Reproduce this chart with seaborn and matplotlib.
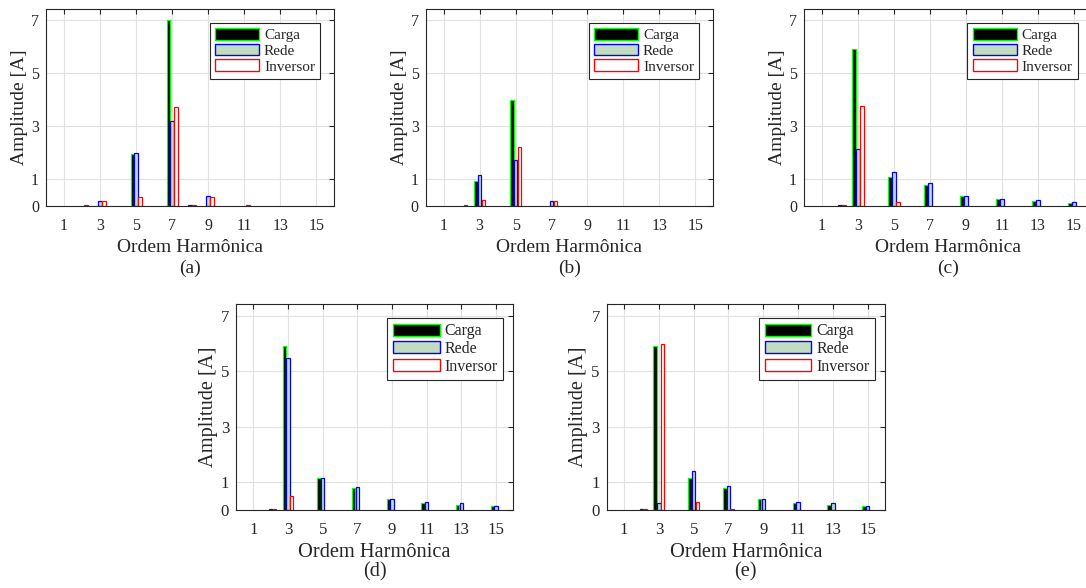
# Harmonic spectra of load, grid and inverter currents - five panels

import pandas as pd
import seaborn as sns
import matplotlib.pyplot as plt
from matplotlib.patches import Patch

# Data
harmonics = list(range(1, 16))
series = ['Carga', 'Rede', 'Inversor']
face_colors = ['#000000', '#c2dcc2', '#ffffff']
edge_colors = ['#00ff00', '#0000ff', '#ff0000']
xticks = [1, 3, 5, 7, 9, 11, 13, 15]
yticks = [0, 1, 3, 5, 7]

carga_a = [0, 0, 0, 0, 1.96, 0, 7.0, 0, 0, 0, 0, 0, 0, 0, 0]
rede_a = [0, 0, 0.19, 0, 2.01, 0, 3.19, 0.05, 0.39, 0, 0, 0, 0, 0, 0]
inversor_a = [0, 0.05, 0.19, 0, 0.34, 0, 3.73, 0.05, 0.34, 0, 0.05, 0, 0, 0, 0]

carga_b = [0, 0, 0.96, 0, 3.99, 0, 0, 0, 0, 0, 0, 0, 0, 0, 0]
rede_b = [0, 0, 1.17, 0, 1.72, 0, 0.18, 0, 0, 0, 0, 0, 0, 0, 0]
inversor_b = [0, 0.05, 0.21, 0, 2.23, 0, 0.18, 0, 0, 0, 0, 0, 0, 0, 0]

carga_c = [0, 0, 5.92, 0, 1.11, 0, 0.80, 0, 0.37, 0, 0.25, 0, 0.17, 0, 0.13]
rede_c = [0, 0.05, 2.14, 0, 1.27, 0, 0.86, 0, 0.39, 0, 0.26, 0, 0.21, 0, 0.14]
inversor_c = [0, 0.05, 3.78, 0, 0.15, 0, 0, 0, 0, 0, 0, 0, 0, 0, 0]

carga_d = [0, 0, 5.92, 0, 1.15, 0, 0.81, 0, 0.40, 0, 0.26, 0, 0.18, 0, 0.14]
rede_d = [0, 0.05, 5.49, 0, 1.15, 0, 0.83, 0, 0.41, 0, 0.28, 0, 0.24, 0, 0.15]
inversor_d = [0, 0.05, 0.49, 0, 0, 0, 0, 0, 0, 0, 0, 0, 0, 0, 0]

carga_e = [0, 0, 5.92, 0, 1.14, 0, 0.81, 0, 0.38, 0, 0.26, 0, 0.18, 0, 0.14]
rede_e = [0, 0.05, 0.24, 0, 1.39, 0, 0.86, 0, 0.41, 0, 0.28, 0, 0.24, 0, 0.16]
inversor_e = [0, 0.05, 5.97, 0, 0.28, 0, 0.04, 0, 0, 0, 0, 0, 0, 0, 0]

sns.set_theme(style='white')
plt.rcParams['font.family'] = ['Liberation Serif', 'DejaVu Serif']
plt.rcParams['text.color'] = '#262626'
plt.rcParams['axes.labelcolor'] = '#262626'

W, H = 1086, 588
fig = plt.figure(figsize=(W / 100, H / 100), dpi=100)


def draw_panel(rect, carga, rede, inversor, letter, fs, leg_right):
    left, top, right, bottom = rect
    ax = fig.add_axes([left / W, 1 - bottom / H, (right - left) / W, (bottom - top) / H])
    ax_w, ax_h = right - left, bottom - top

    df = pd.DataFrame({
        'Ordem': harmonics * 3,
        'Amplitude': carga + rede + inversor,
        'Serie': [s for s in series for _ in harmonics],
    })
    sns.barplot(data=df, x='Ordem', y='Amplitude', hue='Serie', hue_order=series,
                palette=dict(zip(series, face_colors)), native_scale=True,
                width=0.63, gap=0.05, errorbar=None, saturation=1,
                linewidth=0.9, legend=False, ax=ax)

    # edge colour per series, hide empty bars
    for cont, ec in zip(ax.containers, edge_colors):
        for p in cont.patches:
            p.set_edgecolor(ec)
            if p.get_height() == 0:
                p.set_visible(False)

    ax.set_xlim(0, 16)
    ax.set_ylim(0, 7.42)
    ax.set_xticks(xticks)
    ax.set_yticks(yticks)
    ax.grid(True, color='#e0e0e0', linewidth=0.8)
    ax.set_axisbelow(True)
    for s in ax.spines.values():
        s.set_color('#262626')
        s.set_linewidth(0.8)
    ax.tick_params(direction='in', top=True, right=True, length=3.5, width=0.8,
                   color='#262626', labelsize=11.5 * fs, labelcolor='#262626')
    ax.tick_params(axis='x', pad=8.5)
    ax.tick_params(axis='y', pad=5)

    ax.set_xlabel('Ordem Harmônica', fontsize=14 * fs, labelpad=4)
    ax.set_ylabel('Amplitude [A]', fontsize=14 * fs, labelpad=2)
    ax.text(0.5, -62 / ax_h, letter, transform=ax.transAxes, ha='center', va='center',
            fontsize=14 * fs)

    handles = [Patch(facecolor=fc, edgecolor=ec, linewidth=1.0, label=s)
               for s, fc, ec in zip(series, face_colors, edge_colors)]
    leg = ax.legend(handles=handles, loc='upper right',
                    bbox_to_anchor=(1 - leg_right / ax_w, 1 - 13.4 / ax_h),
                    borderaxespad=0, fontsize=11 * fs, handlelength=2.9,
                    handleheight=0.8, handletextpad=0.3, labelspacing=0.1,
                    borderpad=0.35, fancybox=False, framealpha=1, edgecolor='#262626')
    leg.get_frame().set_linewidth(0.8)
    return ax


draw_panel((46, 9.3, 334.3, 206), carga_a, rede_a, inversor_a, '(a)', 1.0, 14)
draw_panel((425.7, 9.3, 713.3, 206), carga_b, rede_b, inversor_b, '(b)', 1.0, 14)
draw_panel((804, 9.3, 1092, 206), carga_c, rede_c, inversor_c, '(c)', 1.0, 14)
draw_panel((236, 304.3, 513.3, 510), carga_d, rede_d, inversor_d, '(d)', 1.05, 10)
draw_panel((606.7, 304.3, 885, 510), carga_e, rede_e, inversor_e, '(e)', 1.05, 10)

fig.savefig('out.png', dpi=100)
